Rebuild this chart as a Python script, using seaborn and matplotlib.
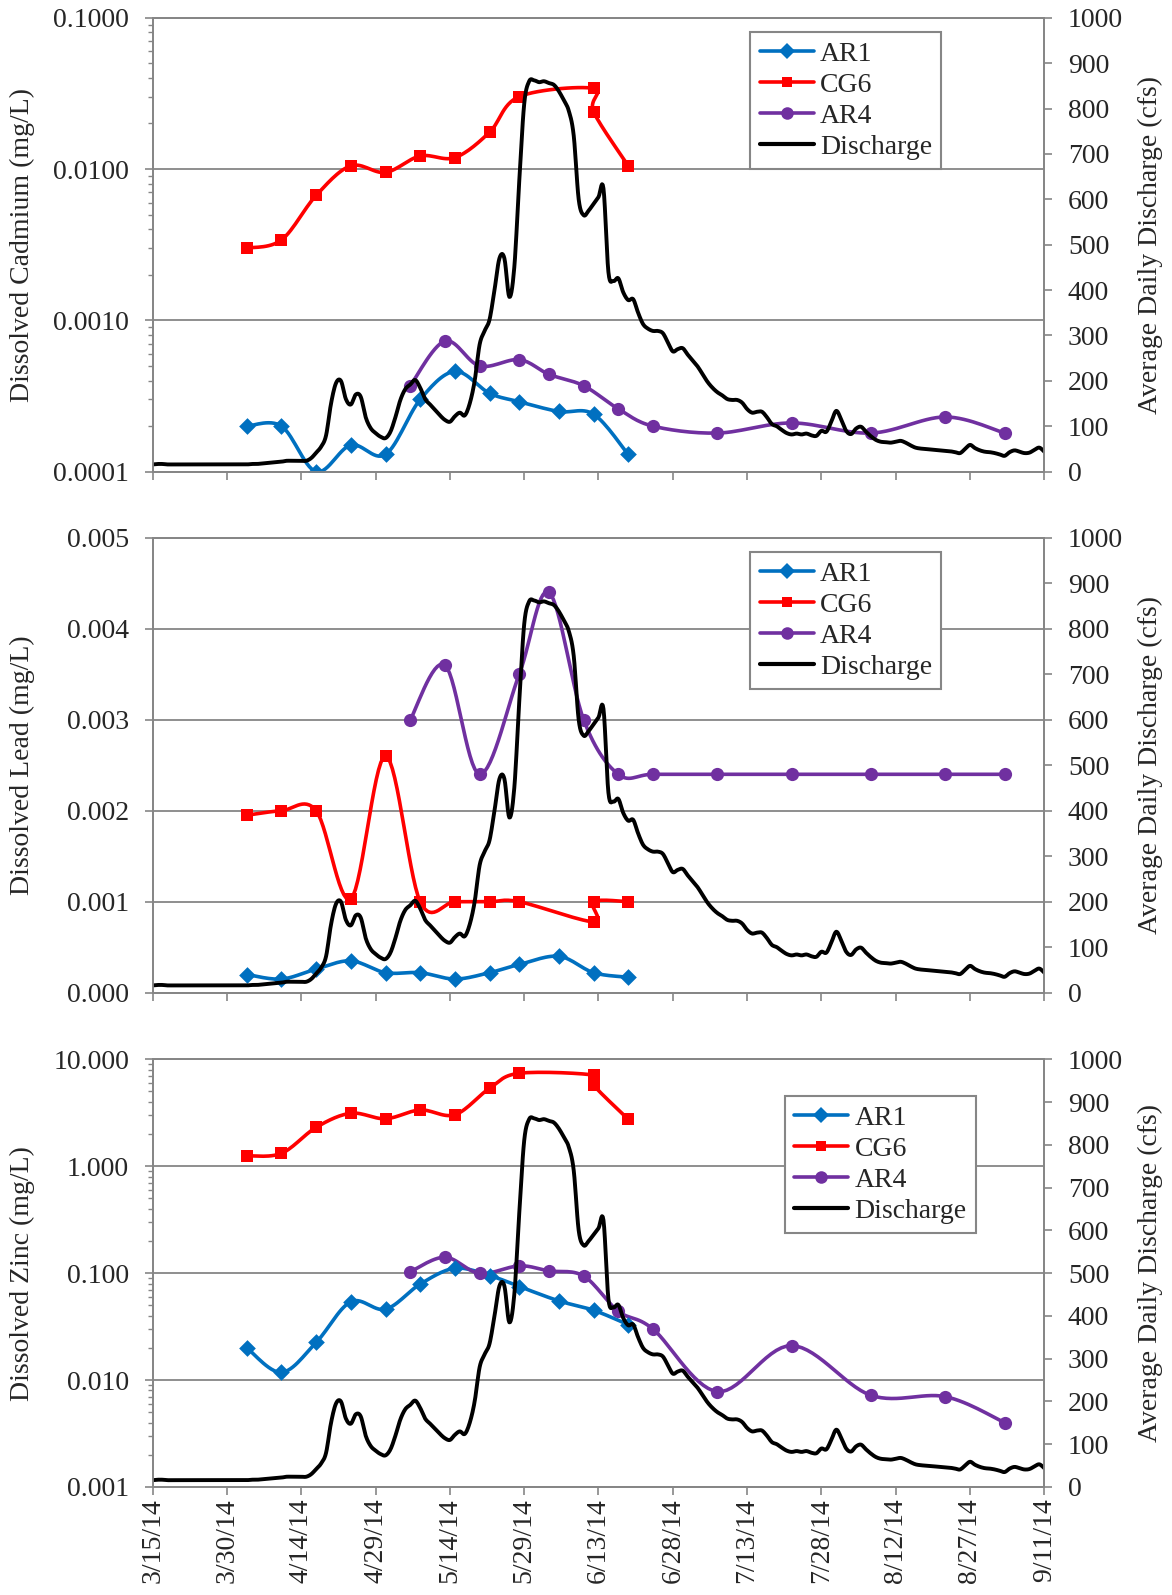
import numpy as np
import pandas as pd
import matplotlib
matplotlib.use("Agg")
import matplotlib.pyplot as plt
import matplotlib.dates as mdates
import seaborn as sns
from matplotlib.lines import Line2D
from matplotlib.ticker import FixedLocator, FuncFormatter, LogLocator, NullFormatter, MultipleLocator

# ---------------------------------------------------------------- data
ar1_dates = ["2014-04-03", "2014-04-10", "2014-04-17", "2014-04-24", "2014-05-01", "2014-05-08",
             "2014-05-15", "2014-05-22", "2014-05-28", "2014-06-05", "2014-06-12", "2014-06-19"]
cg6_dates = ["2014-04-03", "2014-04-10", "2014-04-17", "2014-04-24", "2014-05-01", "2014-05-08",
             "2014-05-15", "2014-05-22", "2014-05-28", "2014-06-12", "2014-06-12", "2014-06-19"]
ar4_dates = ["2014-05-06", "2014-05-13", "2014-05-20", "2014-05-28", "2014-06-03", "2014-06-10",
             "2014-06-17", "2014-06-24", "2014-07-07", "2014-07-22", "2014-08-07", "2014-08-22",
             "2014-09-03"]

cd_ar1 = [0.00020, 0.00020, 0.00010, 0.00015, 0.00013, 0.00030, 0.00046, 0.00033, 0.00029,
          0.00025, 0.00024, 0.00013]
cd_cg6 = [0.0030, 0.0034, 0.0067, 0.0105, 0.0095, 0.0122, 0.0119, 0.0175, 0.0301, 0.0341,
          0.0239, 0.0105]
cd_ar4 = [0.00037, 0.00073, 0.00050, 0.00055, 0.00044, 0.00037, 0.00026, 0.00020, 0.00018,
          0.00021, 0.00018, 0.00023, 0.00018]

pb_ar1 = [0.00020, 0.00015, 0.00026, 0.00035, 0.00022, 0.00022, 0.00015, 0.00022, 0.00031,
          0.00040, 0.00022, 0.00017]
pb_cg6 = [0.00195, 0.0020, 0.0020, 0.00103, 0.0026, 0.0010, 0.0010, 0.0010, 0.0010, 0.00078,
          0.0010, 0.0010]
pb_ar4 = [0.0030, 0.0036, 0.0024, 0.0035, 0.0044, 0.0030, 0.0024, 0.0024, 0.0024, 0.0024,
          0.0024, 0.0024, 0.0024]

zn_ar1 = [0.020, 0.0118, 0.0225, 0.054, 0.046, 0.079, 0.111, 0.095, 0.075, 0.055, 0.045, 0.033]
zn_cg6 = [1.25, 1.32, 2.31, 3.13, 2.78, 3.36, 3.03, 5.36, 7.40, 7.12, 5.75, 2.75]
zn_ar4 = [0.103, 0.141, 0.0995, 0.117, 0.105, 0.094, 0.044, 0.030, 0.0078, 0.021, 0.0072,
          0.0070, 0.0040]

# average daily discharge (cfs), 3/15/14 - 9/11/14
discharge_start = "2014-03-15"
discharge = [16, 17, 17, 16, 16, 16, 16, 16, 16, 16, 16, 16, 16, 16, 16, 16, 16, 16, 16, 16, 17,
             17, 18, 19, 20, 21, 22, 24, 24, 24, 24, 24,
             30, 42, 55, 80, 150, 195, 200, 160, 148, 170, 165,
             120, 96, 85, 77, 74, 88, 120, 158, 182, 192, 202,
             185, 160, 148, 136, 124, 114, 110, 122, 130, 124, 150,
             200, 280, 310, 335, 400, 470, 470, 385, 450, 640, 810,
             860, 862, 858, 860, 856, 852, 838, 818, 795, 740, 600,
             565, 575, 590, 605, 624, 440, 420, 426, 395, 378, 380,
             350, 325, 315, 310, 310, 305, 285, 265, 270, 272, 258,
             245, 232, 215, 198, 185, 175, 168, 160, 158, 158, 152,
             138, 130, 132, 132, 120, 105, 100, 92, 85, 82, 84,
             82, 84, 80, 79, 90, 88, 110, 134, 115, 90, 83,
             95, 99, 88, 78, 70, 66, 65, 64, 66, 68, 64,
             58, 53, 51, 50, 49, 48, 47, 46, 45, 43, 41,
             50, 59, 52, 47, 44, 43, 41, 38, 35, 43, 47,
             44, 41, 42, 48, 53, 44]

site_names = ["AR1", "CG6", "AR4"]
tick_start, tick_step, tick_count = "2014-03-15", 15, 13

# ---------------------------------------------------------------- style
sns.set_style("white")
plt.rcParams["font.family"] = ["Liberation Serif", "DejaVu Serif"]

GREY = "#868686"
COLORS = {"AR1": "#0070C0", "CG6": "#FF0000", "AR4": "#7030A0"}
MARKERS = {"AR1": ("D", 8.5), "CG6": ("s", 8.0), "AR4": ("o", 9.5)}
FS = 20
LW = 2.6


def excel_smooth(x, y, n=16):
    """Bezier smoothing through the points (same construction as a smoothed chart line)."""
    p = np.column_stack([x, y]).astype(float)
    ext = np.vstack([p[0], p, p[-1]])
    t = np.linspace(0, 1, n)[:, None]
    segs = []
    for i in range(len(p) - 1):
        p0, p1, p2, p3 = ext[i], ext[i + 1], ext[i + 2], ext[i + 3]
        c1 = p1 + (p2 - p0) / 6.0
        c2 = p2 - (p3 - p1) / 6.0
        seg = ((1 - t) ** 3) * p1 + 3 * ((1 - t) ** 2) * t * c1 + 3 * (1 - t) * (t ** 2) * c2 + (t ** 3) * p2
        segs.append(seg if i == 0 else seg[1:])
    s = np.vstack(segs)
    return s[:, 0], s[:, 1]


def datenums(dates):
    return mdates.date2num(pd.to_datetime(dates).to_pydatetime())


def draw_series(ax, dates, vals, name, log):
    xn = datenums(dates)
    yv = np.asarray(vals, dtype=float)
    ys = np.log10(yv) if log else yv
    sx, sy = excel_smooth(xn, ys)
    if log:
        sy = 10 ** sy
    sns.lineplot(x=sx, y=sy, ax=ax, color=COLORS[name], lw=LW, sort=False,
                 estimator=None, legend=False, zorder=2)
    m, ms = MARKERS[name]
    sns.scatterplot(x=xn, y=yv, ax=ax, marker=m, s=ms ** 2, color=COLORS[name],
                    edgecolor=COLORS[name], linewidth=0, legend=False, zorder=3)


fig = plt.figure(figsize=(11.72, 15.95), dpi=100)
W, H = 1172.0, 1595.0
x_left, x_right = 152.7, 1044.3
panels = [
    # (top px, bottom px, label, log, ylim, formatter, legend anchor, series)
    (17.7, 471.7, "Dissolved Cadmium (mg/L)", True, (1e-4, 1e-1), "%.4f", (0.670, 0.9685),
     (cd_ar1, cd_cg6, cd_ar4)),
    (537.7, 992.7, "Dissolved Lead (mg/L)", False, (0.0, 0.005), "%.3f", (0.670, 0.9686),
     (pb_ar1, pb_cg6, pb_ar4)),
    (1059.3, 1487.0, "Dissolved Zinc (mg/L)", True, (1e-3, 10.0), "%.3f", (0.709, 0.915),
     (zn_ar1, zn_cg6, zn_ar4)),
]

tick_nums = datenums(pd.date_range(tick_start, periods=tick_count, freq=f"{tick_step}D"))
q_dates = pd.date_range(discharge_start, periods=len(discharge), freq="D")
q_nums = datenums(q_dates)
q_sx, q_sy = excel_smooth(q_nums, np.asarray(discharge, dtype=float), n=8)


def date_fmt(v, pos=None):
    d = mdates.num2date(v)
    return f"{d.month}/{d.day}/{d:%y}"


for k, (top, bot, ylabel, log, ylim, fmt, leg_anchor, series) in enumerate(panels):
    ax = fig.add_axes([x_left / W, 1 - bot / H, (x_right - x_left) / W, (bot - top) / H])
    for name, dates, vals in zip(site_names, (ar1_dates, cg6_dates, ar4_dates), series):
        draw_series(ax, dates, vals, name, log)

    if log:
        ax.set_yscale("log")
        ax.yaxis.set_major_locator(LogLocator(base=10))
        ax.yaxis.set_minor_locator(LogLocator(base=10, subs=np.arange(2, 10)))
        ax.yaxis.set_minor_formatter(NullFormatter())
    else:
        ax.yaxis.set_major_locator(MultipleLocator(0.001))
    ax.yaxis.set_major_formatter(FuncFormatter(lambda v, p, f=fmt: f % v))
    ax.set_ylim(*ylim)
    ax.set_xlim(tick_nums[0], tick_nums[-1])
    ax.xaxis.set_major_locator(FixedLocator(tick_nums))
    ax.xaxis.set_major_formatter(FuncFormatter(date_fmt))

    ax.yaxis.grid(True, which="major", color=GREY, lw=1.3)
    ax.xaxis.grid(False)
    ax.set_axisbelow(True)
    for side in ("left", "bottom", "top", "right"):
        ax.spines[side].set_color(GREY)
        ax.spines[side].set_linewidth(1.3)

    ax.tick_params(axis="y", which="major", direction="out", length=6, width=1.2, color=GREY,
                   labelsize=FS, pad=11, left=True)
    ax.tick_params(axis="y", which="minor", direction="out", length=3.5, width=1.0, color=GREY,
                   left=True)
    ax.tick_params(axis="x", which="major", direction="out", length=6, width=1.2, color=GREY,
                   labelsize=FS, pad=2, bottom=True, labelrotation=90)
    if k < 2:
        ax.tick_params(axis="x", labelbottom=False)
    ax.set_ylabel(ylabel, fontsize=FS)
    ax.yaxis.set_label_coords(-0.132, 0.5)
    ax.set_xlabel("")

    ax2 = ax.twinx()
    sns.lineplot(x=q_sx, y=q_sy, ax=ax2, color="black", lw=2.8, sort=False,
                 estimator=None, legend=False, zorder=2)
    ax2.set_ylim(0, 1000)
    ax2.yaxis.set_major_locator(MultipleLocator(100))
    ax2.yaxis.set_major_formatter(FuncFormatter(lambda v, p: f"{v:.0f}"))
    ax2.tick_params(axis="y", direction="out", length=6, width=1.2, color=GREY, labelsize=FS,
                    pad=11, right=True)
    for side in ("left", "bottom", "top", "right"):
        ax2.spines[side].set_color(GREY)
        ax2.spines[side].set_linewidth(1.3)
    ax2.set_ylabel("Average Daily Discharge (cfs)", fontsize=FS)
    ax2.yaxis.set_label_coords(1.105, 0.5)
    ax2.set_xlim(tick_nums[0], tick_nums[-1])

    handles = []
    for name in site_names:
        m, ms = MARKERS[name]
        handles.append(Line2D([], [], color=COLORS[name], lw=LW, marker=m, markersize=ms * 0.95,
                              markeredgewidth=0))
    handles.append(Line2D([], [], color="black", lw=3.0))
    leg = ax2.legend(handles, site_names + ["Discharge"], loc="upper left",
                     bbox_to_anchor=leg_anchor, fontsize=FS, frameon=True, fancybox=False,
                     framealpha=1.0, edgecolor=GREY, borderpad=0.34, labelspacing=0.2,
                     handlelength=1.95, handletextpad=0.22, borderaxespad=0.0)
    leg.get_frame().set_linewidth(1.5)
    leg.set_zorder(10)

fig.savefig("out.png", dpi=100)
